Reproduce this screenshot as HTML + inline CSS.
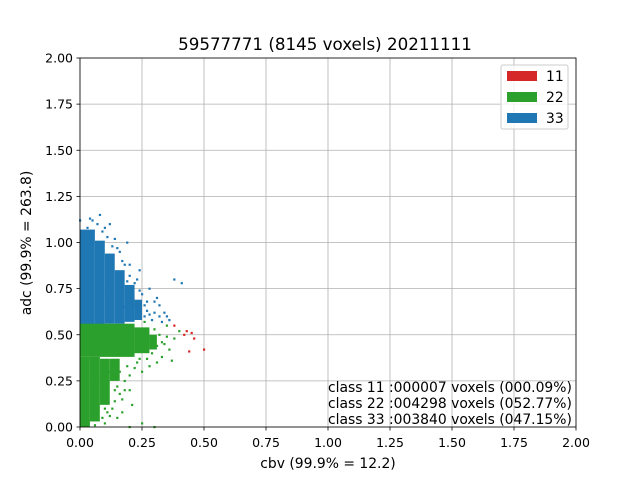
<!DOCTYPE html>
<html><head><meta charset="utf-8"><style>
body{margin:0;background:#fff;}
svg text{font-family:"DejaVu Sans","Liberation Sans",sans-serif;}
</style></head><body>
<svg id="chart" width="640" height="480" xmlns="http://www.w3.org/2000/svg" style="position:absolute;left:0;top:0">
<g id="grid"></g><g id="cores"></g><g id="points"></g><g id="axes"></g>
</svg>
<script>
const ticks = [0,0.25,0.5,0.75,1.0,1.25,1.5,1.75,2.0];
const tickLabels = ["0.00","0.25","0.50","0.75","1.00","1.25","1.50","1.75","2.00"];
// dense regions [x0,x1,y0,y1] in data units
const blueCore = [[0,0.06,0.55,1.07],[0.06,0.1,0.55,1.01],[0.1,0.14,0.56,0.94],[0.14,0.18,0.56,0.85],[0.18,0.22,0.57,0.77],[0.22,0.25,0.58,0.69]];
const greenCore = [[0,0.22,0.38,0.56],[0.22,0.28,0.4,0.54],[0.28,0.31,0.42,0.5],[0,0.04,0.0,0.38],[0.04,0.08,0.03,0.38],[0.08,0.12,0.12,0.37],[0.12,0.16,0.25,0.37]];
const bluePts = [[0.16,0.95],[0.18,0.88],[0.2,0.82],[0.22,0.78],[0.25,0.72],[0.27,0.68],[0.3,0.62],[0.32,0.66],[0.35,0.6],[0.38,0.8],[0.41,0.78],[0.36,0.58],[0.28,0.75],[0.24,0.85],[0.19,1.0],[0.12,1.1],[0.08,1.15],[0.05,1.12],[0.1,1.08],[0.14,1.02],[0.17,0.9],[0.21,0.7],[0.23,0.65],[0.26,0.6],[0.29,0.58],[0.31,0.7],[0.33,0.57],[0.2,0.62],[0.18,0.65],[0.16,0.75],[0.0,1.12],[0.03,1.08],[0.13,0.98],[0.15,0.8],[0.22,0.66],[0.27,0.63],[0.11,1.03],[0.07,1.1],[0.09,1.06],[0.04,1.13],[0.26,0.66],[0.24,0.74],[0.28,0.61],[0.3,0.68],[0.23,0.8],[0.2,0.88],[0.15,0.97],[0.34,0.62],[0.32,0.6],[0.19,0.79]];
const greenPts = [[0.32,0.5],[0.34,0.45],[0.36,0.42],[0.38,0.48],[0.33,0.38],[0.31,0.35],[0.28,0.33],[0.25,0.3],[0.22,0.32],[0.2,0.28],[0.18,0.25],[0.15,0.22],[0.2,0.2],[0.17,0.15],[0.13,0.1],[0.15,0.05],[0.1,0.02],[0.2,0.0],[0.25,0.02],[0.12,0.3],[0.14,0.35],[0.24,0.37],[0.3,0.53],[0.26,0.57],[0.35,0.55],[0.4,0.52],[0.37,0.36],[0.29,0.4],[0.16,0.18],[0.11,0.08],[0.3,0.0],[0.06,0.01],[0.13,0.27],[0.33,0.46],[0.35,0.49],[0.31,0.44],[0.27,0.37],[0.23,0.35],[0.19,0.33],[0.16,0.3],[0.18,0.2],[0.14,0.14],[0.12,0.06],[0.09,0.05],[0.17,0.08],[0.21,0.12],[0.1,0.1],[0.14,0.2]];
const redPts = [[0.42,0.5],[0.44,0.41],[0.46,0.48],[0.5,0.42],[0.43,0.52],[0.38,0.55],[0.45,0.51]];
const X0=80,X1=576,Y0=427,Y1=58;
const sx=v=>X0+(v/2)*(X1-X0), sy=v=>Y0-(v/2)*(Y0-Y1);
const NS="http://www.w3.org/2000/svg";
function mk(tag,attrs,parent,txt){const e=document.createElementNS(NS,tag);for(const k in attrs)e.setAttribute(k,attrs[k]);if(txt!==undefined)e.textContent=txt;parent.appendChild(e);return e;}
const grid=document.getElementById('grid'),axes=document.getElementById('axes'),cores=document.getElementById('cores'),pts=document.getElementById('points');
ticks.forEach((t,i)=>{
 const gv=mk('line',{x1:sx(t),x2:sx(t),y1:Y1,y2:Y0,stroke:'#b0b0b0','stroke-width':0.8},grid);
 
 const gh=mk('line',{x1:X0,x2:X1,y1:sy(t),y2:sy(t),stroke:'#b0b0b0','stroke-width':0.8},grid);
 
 mk('line',{x1:sx(t),x2:sx(t),y1:Y0,y2:Y0+3.5,stroke:'#000','stroke-width':0.8},axes);
 mk('line',{x1:X0-3.5,x2:X0,y1:sy(t),y2:sy(t),stroke:'#000','stroke-width':0.8},axes);
 const xl=mk('text',{x:sx(t),y:Y0+20,'font-size':12.5,'text-anchor':'middle'},axes,tickLabels[i]);
 
 const yl=mk('text',{x:X0-7,y:sy(t)+4.5,'font-size':12.5,'text-anchor':'end'},axes,tickLabels[i]);
 
});
function core(arr,col,name){arr.forEach(r=>{const e=mk('rect',{x:sx(r[0]),y:sy(r[3]),width:sx(r[1])-sx(r[0]),height:sy(r[2])-sy(r[3]),fill:col},cores);
 });}
core(blueCore,'#1f77b4','class-33-dense');core(greenCore,'#2ca02c','class-22-dense');
function dots(arr,col,name){arr.forEach(p=>{const e=mk('rect',{x:sx(p[0])-1,y:sy(p[1])-1,width:2.2,height:2.2,fill:col},pts);
 });}
dots(bluePts,'#1f77b4','class-33-point');dots(greenPts,'#2ca02c','class-22-point');dots(redPts,'#d62728','class-11-point');
const fr=mk('rect',{x:X0,y:Y1,width:X1-X0,height:Y0-Y1,fill:'none',stroke:'#000','stroke-width':0.8},axes);

</script>
<svg style="position:absolute;left:0;top:0" width="640" height="480">
<text x="325" y="50" font-size="16.7" text-anchor="middle" font-family="DejaVu Sans,Liberation Sans,sans-serif">59577771 (8145 voxels) 20211111</text>
<text x="328" y="468" font-size="13.9" text-anchor="middle" font-family="DejaVu Sans,Liberation Sans,sans-serif">cbv (99.9% = 12.2)</text>
<text transform="translate(31,243) rotate(-90)" font-size="13.9" text-anchor="middle" font-family="DejaVu Sans,Liberation Sans,sans-serif">adc (99.9% = 263.8)</text>
<g font-family="DejaVu Sans,Liberation Sans,sans-serif" font-size="13.9">
<rect x="501" y="65" width="67" height="64" rx="2" fill="#fff" fill-opacity="0.8" stroke="#ccc"/>
<rect x="507" y="71" width="30" height="10" fill="#d62728"/>
<text x="546" y="81">11</text>
<rect x="507" y="92" width="30" height="10" fill="#2ca02c"/>
<text x="546" y="102">22</text>
<rect x="507" y="113" width="30" height="10" fill="#1f77b4"/>
<text x="546" y="123">33</text>
</g>
<g font-family="DejaVu Sans,Liberation Sans,sans-serif" font-size="13.9">
<text x="328" y="392">class 11 :000007 voxels (000.09%)</text>
<text x="328" y="408">class 22 :004298 voxels (052.77%)</text>
<text x="328" y="424">class 33 :003840 voxels (047.15%)</text>
</g>
</svg>
</body></html>
